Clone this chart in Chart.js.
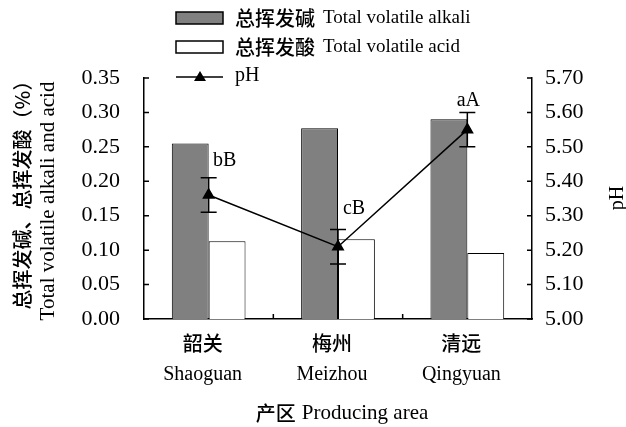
<!DOCTYPE html>
<html>
<head>
<meta charset="utf-8">
<script src="https://cdn.jsdelivr.net/npm/chart.js@4/dist/chart.umd.min.js"></script>
<style>
  html, body { margin: 0; padding: 0; background: #fff; }
  #wrap { width: 626px; height: 427px; position: relative; }
</style>
</head>
<body>
<div id="wrap"><canvas id="chart"></canvas></div>
<script>
// data
const areasCn = ['韶关', '梅州', '清远'];
const areasEn = ['Shaoguan', 'Meizhou', 'Qingyuan'];
const alkali = [0.255, 0.277, 0.290];   // 总挥发碱
const acid = [0.113, 0.116, 0.096];     // 总挥发酸
const ph = [5.36, 5.21, 5.55];
const phErr = [0.05, 0.05, 0.05];
const sigLabels = ['bB', 'cB', 'aA'];

// label placement relative to the top of each error bar (px)
const sigOffsets = [[16, -17], [16, -21], [1, -12]];

const SERIF = '"Liberation Serif", "Times New Roman", serif';
const CJK = '"Noto Sans CJK SC", sans-serif';
const CJK_WEIGHT = '500';

function drawMixed(ctx, cn, en, x, y, cnSize, enSize, gap, align) {
    ctx.save();
    ctx.textBaseline = 'middle';
    ctx.font = CJK_WEIGHT + ' ' + cnSize + 'px ' + CJK;
    const w1 = ctx.measureText(cn).width;
    ctx.font = enSize + 'px ' + SERIF;
    const w2 = ctx.measureText(en).width;
    let x0 = x;
    if (align === 'center') x0 = x - (w1 + gap + w2) / 2;
    ctx.textAlign = 'left';
    ctx.font = CJK_WEIGHT + ' ' + cnSize + 'px ' + CJK;
    ctx.fillText(cn, x0, y);
    ctx.font = enSize + 'px ' + SERIF;
    ctx.fillText(en, x0 + w1 + gap, y);
    ctx.restore();
}

const extras = {
    id: 'extras',
    afterDatasetsDraw(chart) {
        const ctx = chart.ctx;
        const xs = chart.scales.x;
        const y1 = chart.scales.y1;
        // 误差线
        ctx.save();
        ctx.strokeStyle = '#000';
        ctx.lineWidth = 1.5;
        ph.forEach((v, i) => {
            const px = xs.getPixelForValue(i);
            const top = y1.getPixelForValue(v + phErr[i]);
            const bot = y1.getPixelForValue(v - phErr[i]);
            ctx.beginPath();
            ctx.moveTo(px, top); ctx.lineTo(px, bot);
            ctx.moveTo(px - 8, top); ctx.lineTo(px + 8, top);
            ctx.moveTo(px - 8, bot); ctx.lineTo(px + 8, bot);
            ctx.stroke();
        });
        // 显著性字母
        ctx.fillStyle = '#000';
        ctx.font = '20px ' + SERIF;
        ctx.textAlign = 'center';
        ctx.textBaseline = 'middle';
        sigLabels.forEach((s, i) => {
            const px = xs.getPixelForValue(i);
            const top = y1.getPixelForValue(ph[i] + phErr[i]);
            ctx.fillText(s, px + sigOffsets[i][0], top + sigOffsets[i][1]);
        });
        ctx.restore();
    },
    afterDraw(chart) {
        const ctx = chart.ctx;
        const area = chart.chartArea;
        const xs = chart.scales.x;
        const y = chart.scales.y;
        const y1 = chart.scales.y1;

        // inward tick marks
        ctx.save();
        ctx.strokeStyle = '#000';
        ctx.lineWidth = 1.5;
        ctx.beginPath();
        y.ticks.forEach(t => {
            const py = y.getPixelForValue(t.value);
            ctx.moveTo(area.left, py); ctx.lineTo(area.left + 5, py);
        });
        y1.ticks.forEach(t => {
            const py = y1.getPixelForValue(t.value);
            ctx.moveTo(area.right, py); ctx.lineTo(area.right - 5, py);
        });
        for (let i = 0; i < areasCn.length - 1; i++) {
            const bx = (xs.getPixelForValue(i) + xs.getPixelForValue(i + 1)) / 2;
            ctx.moveTo(bx, area.bottom); ctx.lineTo(bx, area.bottom - 5);
        }
        ctx.stroke();

        // category labels
        ctx.fillStyle = '#000';
        ctx.textAlign = 'center';
        ctx.textBaseline = 'middle';
        areasCn.forEach((c, i) => {
            const px = xs.getPixelForValue(i) - 6;
            ctx.font = CJK_WEIGHT + ' 20px ' + CJK;
            ctx.fillText(c, px, area.bottom + 24);
            ctx.font = '20px ' + SERIF;
            ctx.fillText(areasEn[i], px, area.bottom + 56);
        });

        // axis titles
        drawMixed(ctx, '产区', 'Producing area', 342, 413, 20, 21, 6, 'center');

        ctx.save();
        ctx.translate(22, 190);
        ctx.rotate(-Math.PI / 2);
        ctx.font = CJK_WEIGHT + ' 20px ' + CJK;
        ctx.fillText('总挥发碱、总挥发酸（%）', 0, 0);
        ctx.restore();

        ctx.save();
        ctx.translate(48, 201);
        ctx.rotate(-Math.PI / 2);
        ctx.font = '21px ' + SERIF;
        ctx.fillText('Total volatile alkali and acid', 0, 0);
        ctx.restore();

        ctx.save();
        ctx.translate(618, 198);
        ctx.rotate(-Math.PI / 2);
        ctx.font = '20px ' + SERIF;
        ctx.fillText('pH', 0, 0);
        ctx.restore();

        // legend
        const lx = 176, lw = 47;
        ctx.lineWidth = 1.5;
        ctx.fillStyle = '#808080';
        ctx.fillRect(lx, 12, lw, 12);
        ctx.strokeRect(lx, 12, lw, 12);
        ctx.fillStyle = '#fff';
        ctx.fillRect(lx, 41, lw, 12);
        ctx.strokeRect(lx, 41, lw, 12);
        ctx.beginPath();
        ctx.moveTo(lx, 77); ctx.lineTo(lx + lw, 77);
        ctx.stroke();
        ctx.fillStyle = '#000';
        ctx.beginPath();
        ctx.moveTo(lx + 24, 71); ctx.lineTo(lx + 30, 81); ctx.lineTo(lx + 18, 81);
        ctx.closePath();
        ctx.fill();
        drawMixed(ctx, '总挥发碱', 'Total volatile alkali', 235, 18, 20, 19, 8, 'left');
        drawMixed(ctx, '总挥发酸', 'Total volatile acid', 235, 47, 20, 19, 8, 'left');
        ctx.font = '20px ' + SERIF;
        ctx.textAlign = 'left';
        ctx.fillText('pH', 235, 76);
        ctx.restore();
    }
};

new Chart(document.getElementById('chart'), {
    data: {
        labels: areasEn,
        datasets: [
            {
                type: 'line',
                label: 'pH',
                data: ph,
                yAxisID: 'y1',
                borderColor: '#000',
                borderWidth: 1.5,
                pointStyle: 'triangle',
                pointRadius: 6,
                pointBackgroundColor: '#000',
                pointBorderColor: '#000',
                tension: 0,
                order: 0
            },
            {
                type: 'bar',
                label: 'Total volatile alkali',
                data: alkali,
                yAxisID: 'y',
                backgroundColor: '#808080',
                borderColor: '#000',
                borderWidth: 1,
                categoryPercentage: 0.57,
                barPercentage: 1,
                order: 1
            },
            {
                type: 'bar',
                label: 'Total volatile acid',
                data: acid,
                yAxisID: 'y',
                backgroundColor: '#fff',
                borderColor: '#000',
                borderWidth: 1,
                categoryPercentage: 0.57,
                barPercentage: 1,
                order: 1
            }
        ]
    },
    options: {
        responsive: true,
        maintainAspectRatio: false,
        animation: false,
        layout: { padding: { top: 78, left: 0, right: 0, bottom: 0 } },
        plugins: {
            legend: { display: false },
            tooltip: { enabled: false }
        },
        scales: {
            x: {
                grid: { display: false },
                ticks: { display: false },
                border: { color: '#000', width: 1.5 },
                afterFit(scale) { scale.height = 108; }
            },
            y: {
                position: 'left',
                min: 0,
                max: 0.35,
                grid: { display: false, drawTicks: false },
                border: { color: '#000', width: 1.5 },
                ticks: {
                    stepSize: 0.05,
                    padding: 24,
                    color: '#000',
                    font: { family: SERIF, size: 22 },
                    callback: v => v.toFixed(2)
                },
                afterFit(scale) { scale.width = 144; }
            },
            y1: {
                position: 'right',
                min: 5,
                max: 5.7,
                grid: { display: false, drawTicks: false },
                border: { color: '#000', width: 1.5 },
                ticks: {
                    stepSize: 0.1,
                    padding: 13,
                    color: '#000',
                    font: { family: SERIF, size: 22 },
                    callback: v => v.toFixed(2)
                },
                afterFit(scale) { scale.width = 94; }
            }
        }
    },
    plugins: [extras]
});
</script>
</body>
</html>
